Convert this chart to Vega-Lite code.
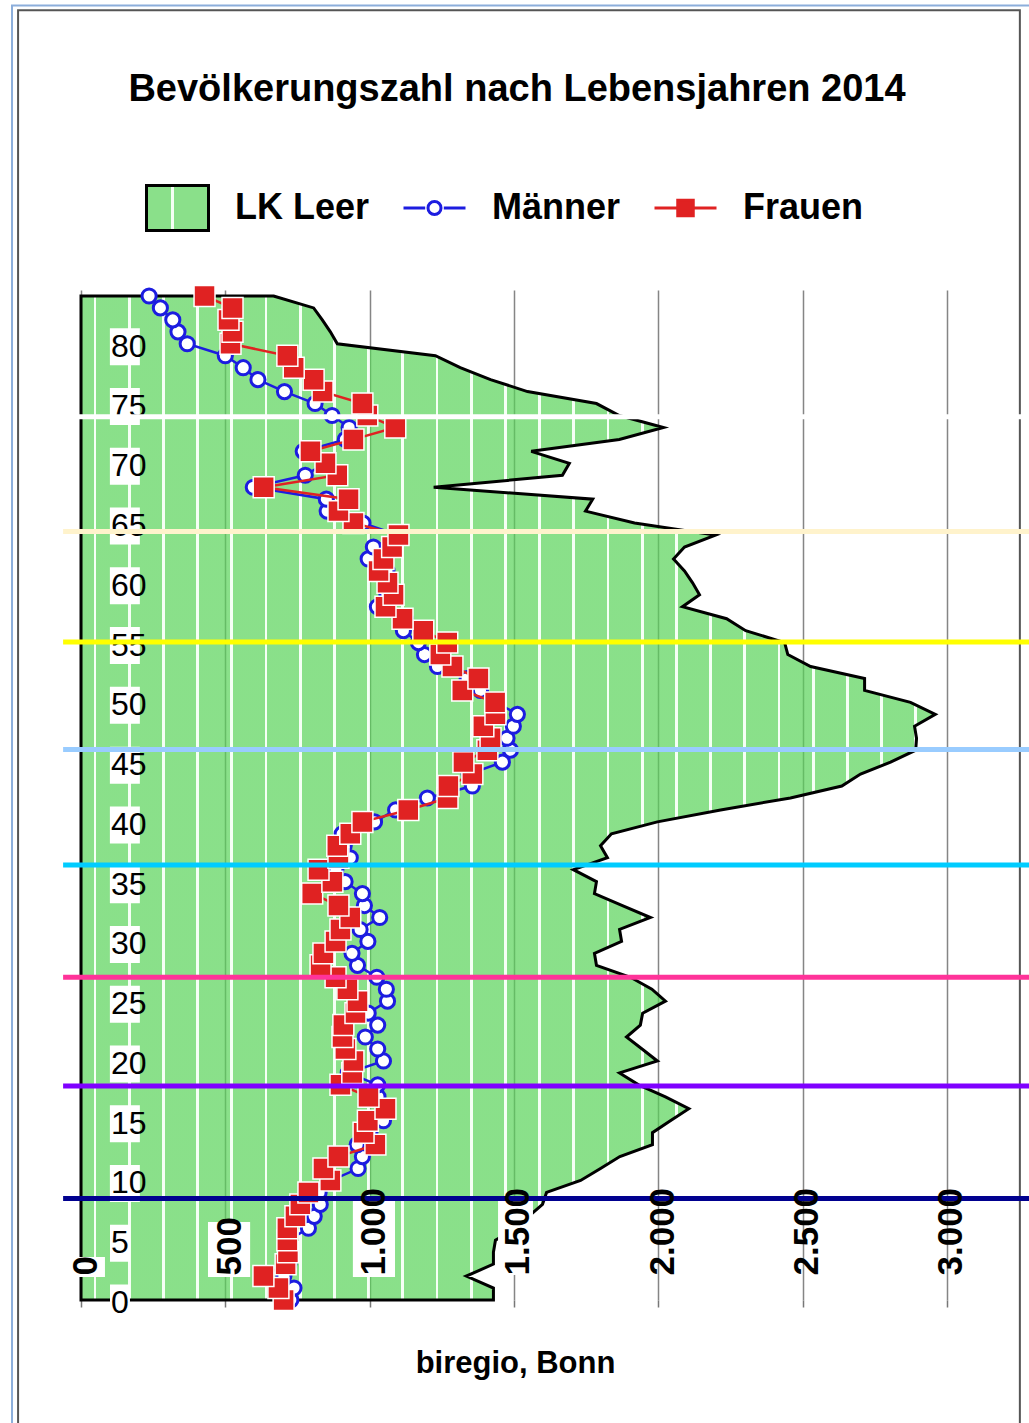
{
  "$schema": "https://vega.github.io/schema/vega-lite/v6.json",
  "width": 938,
  "height": 1010,
  "autosize": {"type": "none"},
  "padding": {"left": 81, "top": 290, "right": 10, "bottom": 123},
  "background": "white",
  "config": {"view": {"stroke": null}, "font": "Liberation Sans"},
  "title": {
    "text": "Bevölkerungszahl nach Lebensjahren 2014",
    "font": "Liberation Sans",
    "fontSize": 38,
    "fontWeight": "bold",
    "color": "black",
    "anchor": "middle",
    "frame": "group",
    "dx": -33,
    "offset": -104
  },
  "datasets": {
    "eins": [{}],
    "bevoelkerung": [
      {"Alter": 0, "LK Leer": 1429, "Männer": 727, "Frauen": 702},
      {"Alter": 1, "LK Leer": 1429, "Männer": 738, "Frauen": 684},
      {"Alter": 2, "LK Leer": 1335, "Männer": 703, "Frauen": 632},
      {"Alter": 3, "LK Leer": 1429, "Männer": 720, "Frauen": 709},
      {"Alter": 4, "LK Leer": 1429, "Männer": 712, "Frauen": 717},
      {"Alter": 5, "LK Leer": 1436, "Männer": 718, "Frauen": 715},
      {"Alter": 6, "LK Leer": 1506, "Männer": 788, "Frauen": 715},
      {"Alter": 7, "LK Leer": 1551, "Männer": 808, "Frauen": 743},
      {"Alter": 8, "LK Leer": 1599, "Männer": 829, "Frauen": 760},
      {"Alter": 9, "LK Leer": 1613, "Männer": 825, "Frauen": 788},
      {"Alter": 10, "LK Leer": 1731, "Männer": 867, "Frauen": 864},
      {"Alter": 11, "LK Leer": 1800, "Männer": 960, "Frauen": 840},
      {"Alter": 12, "LK Leer": 1867, "Männer": 975, "Frauen": 892},
      {"Alter": 13, "LK Leer": 1980, "Männer": 957, "Frauen": 1020},
      {"Alter": 14, "LK Leer": 1980, "Männer": 1001, "Frauen": 979},
      {"Alter": 15, "LK Leer": 2042, "Männer": 1048, "Frauen": 994},
      {"Alter": 16, "LK Leer": 2106, "Männer": 1051, "Frauen": 1055},
      {"Alter": 17, "LK Leer": 2025, "Männer": 1029, "Frauen": 996},
      {"Alter": 18, "LK Leer": 1932, "Männer": 1028, "Frauen": 899},
      {"Alter": 19, "LK Leer": 1866, "Männer": 926, "Frauen": 940},
      {"Alter": 20, "LK Leer": 1997, "Männer": 1048, "Frauen": 944},
      {"Alter": 21, "LK Leer": 1944, "Männer": 1028, "Frauen": 916},
      {"Alter": 22, "LK Leer": 1890, "Männer": 985, "Frauen": 906},
      {"Alter": 23, "LK Leer": 1938, "Männer": 1028, "Frauen": 909},
      {"Alter": 24, "LK Leer": 1946, "Männer": 995, "Frauen": 951},
      {"Alter": 25, "LK Leer": 2025, "Männer": 1062, "Frauen": 958},
      {"Alter": 26, "LK Leer": 1978, "Männer": 1058, "Frauen": 923},
      {"Alter": 27, "LK Leer": 1904, "Männer": 1025, "Frauen": 882},
      {"Alter": 28, "LK Leer": 1786, "Männer": 958, "Frauen": 830},
      {"Alter": 29, "LK Leer": 1779, "Männer": 939, "Frauen": 840},
      {"Alter": 30, "LK Leer": 1873, "Männer": 994, "Frauen": 882},
      {"Alter": 31, "LK Leer": 1866, "Männer": 967, "Frauen": 899},
      {"Alter": 32, "LK Leer": 1973, "Männer": 1035, "Frauen": 933},
      {"Alter": 33, "LK Leer": 1876, "Männer": 982, "Frauen": 892},
      {"Alter": 34, "LK Leer": 1779, "Männer": 975, "Frauen": 801},
      {"Alter": 35, "LK Leer": 1786, "Männer": 915, "Frauen": 871},
      {"Alter": 36, "LK Leer": 1706, "Männer": 883, "Frauen": 823},
      {"Alter": 37, "LK Leer": 1824, "Männer": 933, "Frauen": 892},
      {"Alter": 38, "LK Leer": 1800, "Männer": 912, "Frauen": 888},
      {"Alter": 39, "LK Leer": 1838, "Männer": 905, "Frauen": 933},
      {"Alter": 40, "LK Leer": 1997, "Männer": 1017, "Frauen": 975},
      {"Alter": 41, "LK Leer": 2216, "Männer": 1090, "Frauen": 1134},
      {"Alter": 42, "LK Leer": 2458, "Männer": 1200, "Frauen": 1270},
      {"Alter": 43, "LK Leer": 2636, "Männer": 1356, "Frauen": 1273},
      {"Alter": 44, "LK Leer": 2701, "Männer": 1345, "Frauen": 1356},
      {"Alter": 45, "LK Leer": 2805, "Männer": 1460, "Frauen": 1325},
      {"Alter": 46, "LK Leer": 2892, "Männer": 1488, "Frauen": 1408},
      {"Alter": 47, "LK Leer": 2895, "Männer": 1476, "Frauen": 1419},
      {"Alter": 48, "LK Leer": 2888, "Männer": 1498, "Frauen": 1394},
      {"Alter": 49, "LK Leer": 2960, "Männer": 1512, "Frauen": 1436},
      {"Alter": 50, "LK Leer": 2874, "Männer": 1439, "Frauen": 1435},
      {"Alter": 51, "LK Leer": 2715, "Männer": 1384, "Frauen": 1321},
      {"Alter": 52, "LK Leer": 2715, "Männer": 1338, "Frauen": 1377},
      {"Alter": 53, "LK Leer": 2528, "Männer": 1235, "Frauen": 1287},
      {"Alter": 54, "LK Leer": 2449, "Männer": 1190, "Frauen": 1245},
      {"Alter": 55, "LK Leer": 2438, "Männer": 1169, "Frauen": 1269},
      {"Alter": 56, "LK Leer": 2303, "Männer": 1117, "Frauen": 1186},
      {"Alter": 57, "LK Leer": 2237, "Männer": 1123, "Frauen": 1114},
      {"Alter": 58, "LK Leer": 2084, "Männer": 1027, "Frauen": 1055},
      {"Alter": 59, "LK Leer": 2143, "Männer": 1060, "Frauen": 1083},
      {"Alter": 60, "LK Leer": 2119, "Männer": 1057, "Frauen": 1062},
      {"Alter": 61, "LK Leer": 2091, "Männer": 1060, "Frauen": 1031},
      {"Alter": 62, "LK Leer": 2053, "Männer": 995, "Frauen": 1048},
      {"Alter": 63, "LK Leer": 2091, "Männer": 1013, "Frauen": 1078},
      {"Alter": 64, "LK Leer": 2198, "Männer": 1098, "Frauen": 1100},
      {"Alter": 65, "LK Leer": 1918, "Männer": 977, "Frauen": 944},
      {"Alter": 66, "LK Leer": 1748, "Männer": 853, "Frauen": 892},
      {"Alter": 67, "LK Leer": 1773, "Männer": 850, "Frauen": 927},
      {"Alter": 68, "LK Leer": 1222, "Männer": 597, "Frauen": 633},
      {"Alter": 69, "LK Leer": 1668, "Männer": 777, "Frauen": 888},
      {"Alter": 70, "LK Leer": 1692, "Männer": 845, "Frauen": 847},
      {"Alter": 71, "LK Leer": 1560, "Männer": 770, "Frauen": 795},
      {"Alter": 72, "LK Leer": 1865, "Männer": 916, "Frauen": 944},
      {"Alter": 73, "LK Leer": 2018, "Männer": 929, "Frauen": 1089},
      {"Alter": 74, "LK Leer": 1865, "Männer": 870, "Frauen": 992},
      {"Alter": 75, "LK Leer": 1786, "Männer": 811, "Frauen": 975},
      {"Alter": 76, "LK Leer": 1547, "Männer": 705, "Frauen": 837},
      {"Alter": 77, "LK Leer": 1419, "Männer": 613, "Frauen": 806},
      {"Alter": 78, "LK Leer": 1314, "Männer": 562, "Frauen": 737},
      {"Alter": 79, "LK Leer": 1228, "Männer": 500, "Frauen": 715},
      {"Alter": 80, "LK Leer": 888, "Männer": 368, "Frauen": 518},
      {"Alter": 81, "LK Leer": 864, "Männer": 336, "Frauen": 525},
      {"Alter": 82, "LK Leer": 836, "Männer": 318, "Frauen": 511},
      {"Alter": 83, "LK Leer": 806, "Männer": 275, "Frauen": 525},
      {"Alter": 84, "LK Leer": 667, "Männer": 236, "Frauen": 428}
    ],
    "grenzen": [
      {"Grenze": 8.5},
      {"Grenze": 17.9},
      {"Grenze": 27.0},
      {"Grenze": 36.4},
      {"Grenze": 46.05},
      {"Grenze": 55.05},
      {"Grenze": 64.3},
      {"Grenze": 73.9}
    ]
  },
  "resolve": {"axis": {"x": "independent"}},
  "layer": [
    {
      "data": {"name": "eins"},
      "mark": {"type": "rect", "filled": false, "stroke": "#8CAEDB", "strokeWidth": 2},
      "encoding": {
        "x": {"datum": -239, "type": "quantitative", "scale": {"domain": [0, 3250], "nice": false, "zero": false}, "axis": null},
        "x2": {"datum": 3400},
        "y": {"datum": 108.3, "type": "quantitative", "scale": {"domain": [0, 84.5], "nice": false, "zero": false}, "axis": null},
        "y2": {"datum": -12}
      }
    },
    {
      "data": {"name": "eins"},
      "mark": {"type": "rect", "filled": false, "stroke": "#555555", "strokeWidth": 2},
      "encoding": {
        "x": {"datum": -218, "type": "quantitative", "scale": {"domain": [0, 3250], "nice": false, "zero": false}, "axis": null},
        "x2": {"datum": 3253},
        "y": {"datum": 107.9, "type": "quantitative", "scale": {"domain": [0, 84.5], "nice": false, "zero": false}, "axis": null},
        "y2": {"datum": -12}
      }
    },
    {
      "data": {"name": "bevoelkerung"},
      "mark": {
        "type": "area",
        "orient": "horizontal",
        "fillOpacity": 0.7,
        "stroke": "black",
        "strokeWidth": 3,
        "strokeOpacity": 1,
        "strokeJoin": "miter",
        "fill": {
          "gradient": "linear", "x1": 0, "y1": 0, "x2": 1, "y2": 0,
          "stops": [
            {"offset": 0, "color": "#58D358"},
            {"offset": 0.01475, "color": "#58D358"}, {"offset": 0.01475, "color": "#F1FFF1"}, {"offset": 0.01803, "color": "#F1FFF1"}, {"offset": 0.01803, "color": "#58D358"},
            {"offset": 0.05478, "color": "#58D358"}, {"offset": 0.05478, "color": "#F1FFF1"}, {"offset": 0.05806, "color": "#F1FFF1"}, {"offset": 0.05806, "color": "#58D358"},
            {"offset": 0.09482, "color": "#58D358"}, {"offset": 0.09482, "color": "#F1FFF1"}, {"offset": 0.09809, "color": "#F1FFF1"}, {"offset": 0.09809, "color": "#58D358"},
            {"offset": 0.13485, "color": "#58D358"}, {"offset": 0.13485, "color": "#F1FFF1"}, {"offset": 0.13813, "color": "#F1FFF1"}, {"offset": 0.13813, "color": "#58D358"},
            {"offset": 0.17488, "color": "#58D358"}, {"offset": 0.17488, "color": "#F1FFF1"}, {"offset": 0.17816, "color": "#F1FFF1"}, {"offset": 0.17816, "color": "#58D358"},
            {"offset": 0.21491, "color": "#58D358"}, {"offset": 0.21491, "color": "#F1FFF1"}, {"offset": 0.21819, "color": "#F1FFF1"}, {"offset": 0.21819, "color": "#58D358"},
            {"offset": 0.25495, "color": "#58D358"}, {"offset": 0.25495, "color": "#F1FFF1"}, {"offset": 0.25822, "color": "#F1FFF1"}, {"offset": 0.25822, "color": "#58D358"},
            {"offset": 0.29498, "color": "#58D358"}, {"offset": 0.29498, "color": "#F1FFF1"}, {"offset": 0.29826, "color": "#F1FFF1"}, {"offset": 0.29826, "color": "#58D358"},
            {"offset": 0.33501, "color": "#58D358"}, {"offset": 0.33501, "color": "#F1FFF1"}, {"offset": 0.33829, "color": "#F1FFF1"}, {"offset": 0.33829, "color": "#58D358"},
            {"offset": 0.37504, "color": "#58D358"}, {"offset": 0.37504, "color": "#F1FFF1"}, {"offset": 0.37832, "color": "#F1FFF1"}, {"offset": 0.37832, "color": "#58D358"},
            {"offset": 0.41508, "color": "#58D358"}, {"offset": 0.41508, "color": "#F1FFF1"}, {"offset": 0.41836, "color": "#F1FFF1"}, {"offset": 0.41836, "color": "#58D358"},
            {"offset": 0.45511, "color": "#58D358"}, {"offset": 0.45511, "color": "#F1FFF1"}, {"offset": 0.45839, "color": "#F1FFF1"}, {"offset": 0.45839, "color": "#58D358"},
            {"offset": 0.49514, "color": "#58D358"}, {"offset": 0.49514, "color": "#F1FFF1"}, {"offset": 0.49842, "color": "#F1FFF1"}, {"offset": 0.49842, "color": "#58D358"},
            {"offset": 0.53518, "color": "#58D358"}, {"offset": 0.53518, "color": "#F1FFF1"}, {"offset": 0.53845, "color": "#F1FFF1"}, {"offset": 0.53845, "color": "#58D358"},
            {"offset": 0.57521, "color": "#58D358"}, {"offset": 0.57521, "color": "#F1FFF1"}, {"offset": 0.57849, "color": "#F1FFF1"}, {"offset": 0.57849, "color": "#58D358"},
            {"offset": 0.61524, "color": "#58D358"}, {"offset": 0.61524, "color": "#F1FFF1"}, {"offset": 0.61852, "color": "#F1FFF1"}, {"offset": 0.61852, "color": "#58D358"},
            {"offset": 0.65527, "color": "#58D358"}, {"offset": 0.65527, "color": "#F1FFF1"}, {"offset": 0.65855, "color": "#F1FFF1"}, {"offset": 0.65855, "color": "#58D358"},
            {"offset": 0.69531, "color": "#58D358"}, {"offset": 0.69531, "color": "#F1FFF1"}, {"offset": 0.69858, "color": "#F1FFF1"}, {"offset": 0.69858, "color": "#58D358"},
            {"offset": 0.73534, "color": "#58D358"}, {"offset": 0.73534, "color": "#F1FFF1"}, {"offset": 0.73862, "color": "#F1FFF1"}, {"offset": 0.73862, "color": "#58D358"},
            {"offset": 0.77537, "color": "#58D358"}, {"offset": 0.77537, "color": "#F1FFF1"}, {"offset": 0.77865, "color": "#F1FFF1"}, {"offset": 0.77865, "color": "#58D358"},
            {"offset": 0.81540, "color": "#58D358"}, {"offset": 0.81540, "color": "#F1FFF1"}, {"offset": 0.81868, "color": "#F1FFF1"}, {"offset": 0.81868, "color": "#58D358"},
            {"offset": 0.85544, "color": "#58D358"}, {"offset": 0.85544, "color": "#F1FFF1"}, {"offset": 0.85871, "color": "#F1FFF1"}, {"offset": 0.85871, "color": "#58D358"},
            {"offset": 0.89547, "color": "#58D358"}, {"offset": 0.89547, "color": "#F1FFF1"}, {"offset": 0.89875, "color": "#F1FFF1"}, {"offset": 0.89875, "color": "#58D358"},
            {"offset": 0.93550, "color": "#58D358"}, {"offset": 0.93550, "color": "#F1FFF1"}, {"offset": 0.93878, "color": "#F1FFF1"}, {"offset": 0.93878, "color": "#58D358"},
            {"offset": 0.97553, "color": "#58D358"}, {"offset": 0.97553, "color": "#F1FFF1"}, {"offset": 0.97881, "color": "#F1FFF1"}, {"offset": 0.97881, "color": "#58D358"},
            {"offset": 1, "color": "#58D358"}
          ]
        }
      },
      "encoding": {
        "x": {
          "field": "LK Leer", "type": "quantitative",
          "scale": {"domain": [0, 3250], "nice": false, "zero": false},
          "axis": {
            "orient": "bottom", "values": [0, 500, 1000, 1500, 2000, 2500, 3000],
            "grid": true, "gridColor": "#333333", "gridOpacity": 0.6, "gridWidth": 1.5,
            "labels": false, "ticks": true, "tickSize": 7, "tickColor": "#777777", "tickWidth": 1.5,
            "domain": false, "title": null, "zindex": 0
          }
        },
        "y": {"field": "Alter", "type": "quantitative", "scale": {"domain": [0, 84.5], "nice": false, "zero": false}, "axis": null}
      }
    },
    {
      "data": {"name": "bevoelkerung"},
      "mark": {"type": "line", "strokeWidth": 2.5},
      "encoding": {
        "x": {"field": "Männer", "type": "quantitative", "scale": {"domain": [0, 3250], "nice": false, "zero": false}, "axis": null},
        "y": {"field": "Alter", "type": "quantitative", "scale": {"domain": [0, 84.5], "nice": false, "zero": false}, "axis": null},
        "order": {"field": "Alter", "type": "quantitative"},
        "color": {
          "datum": "Männer", "type": "nominal",
          "scale": {"domain": ["LK Leer", "Männer", "Frauen"], "range": ["#000000", "#1C1CE0", "#E02222"]},
          "legend": {
            "orient": "none", "legendX": 64, "legendY": -115, "direction": "horizontal", "title": null,
            "symbolSize": 3844, "symbolStrokeWidth": 3,
            "labelFont": "Liberation Sans", "labelFontSize": 36, "labelFontWeight": "bold", "labelColor": "black",
            "labelOffset": 25, "columnPadding": 27, "padding": 0, "labelLimit": 400,
            "encode": {
              "symbols": {
                "update": {
                  "shape": {"signal": "datum.value === 'LK Leer' ? 'M-1,-0.726H1V0.726H-1Z' : datum.value === 'Männer' ? 'M0,-0.726M0,0.726M-1,0H-0.3M0.3,0H1M0.21,0A0.21,0.21 0 1 1 -0.21,0A0.21,0.21 0 1 1 0.21,0Z' : 'M0,-0.726M0,0.726M-1,0H-0.25M0.25,0H1M-0.25,-0.25H0.25V0.25H-0.25Z'"},
                  "fill": {"signal": "datum.value === 'LK Leer' ? {gradient: 'linear', x1: 0, y1: 0, x2: 1, y2: 0, stops: [{offset: 0, color: '#8AE08A'}, {offset: 0.4, color: '#8AE08A'}, {offset: 0.4, color: '#F4FFF4'}, {offset: 0.45, color: '#F4FFF4'}, {offset: 0.45, color: '#8AE08A'}, {offset: 1, color: '#8AE08A'}]} : datum.value === 'Männer' ? '#ffffff' : '#E02222'"},
                  "opacity": {"value": 1},
                  "fillOpacity": {"value": 1},
                  "strokeOpacity": {"value": 1},
                  "strokeWidth": {"value": 3}
                }
              }
            }
          }
        }
      }
    },
    {
      "data": {"name": "bevoelkerung"},
      "mark": {"type": "point", "shape": "circle", "filled": true, "fill": "white", "stroke": "#1C1CE0", "strokeWidth": 3, "size": 200, "opacity": 1},
      "encoding": {
        "x": {"field": "Männer", "type": "quantitative", "scale": {"domain": [0, 3250], "nice": false, "zero": false}, "axis": null},
        "y": {"field": "Alter", "type": "quantitative", "scale": {"domain": [0, 84.5], "nice": false, "zero": false}, "axis": null}
      }
    },
    {
      "data": {"name": "bevoelkerung"},
      "mark": {"type": "line", "strokeWidth": 2.5},
      "encoding": {
        "x": {"field": "Frauen", "type": "quantitative", "scale": {"domain": [0, 3250], "nice": false, "zero": false}, "axis": null},
        "y": {"field": "Alter", "type": "quantitative", "scale": {"domain": [0, 84.5], "nice": false, "zero": false}, "axis": null},
        "order": {"field": "Alter", "type": "quantitative"},
        "color": {"datum": "Frauen", "type": "nominal"}
      }
    },
    {
      "data": {"name": "bevoelkerung"},
      "mark": {"type": "point", "shape": "square", "filled": true, "fill": "#E02222", "stroke": "white", "strokeWidth": 1.5, "size": 440, "opacity": 1},
      "encoding": {
        "x": {"field": "Frauen", "type": "quantitative", "scale": {"domain": [0, 3250], "nice": false, "zero": false}, "axis": null},
        "y": {"field": "Alter", "type": "quantitative", "scale": {"domain": [0, 84.5], "nice": false, "zero": false}, "axis": null}
      }
    },
    {
      "data": {"name": "bevoelkerung"},
      "transform": [{"filter": "datum.Alter % 5 === 0 && datum.Alter >= 10"}],
      "mark": {"type": "point", "shape": "M-0.81,-1H0.81V1H-0.81Z", "filled": true, "fill": "white", "strokeWidth": 0, "size": 1369, "opacity": 1, "yOffset": 3},
      "encoding": {
        "x": {"datum": 152, "type": "quantitative", "scale": {"domain": [0, 3250], "nice": false, "zero": false}, "axis": null},
        "y": {"field": "Alter", "type": "quantitative", "scale": {"domain": [0, 84.5], "nice": false, "zero": false}, "axis": null}
      }
    },
    {
      "data": {"name": "bevoelkerung"},
      "transform": [{"filter": "datum.Alter % 5 === 0 && datum.Alter < 10"}],
      "mark": {"type": "point", "shape": "M-0.54,-1H0.54V1H-0.54Z", "filled": true, "fill": "white", "strokeWidth": 0, "size": 1369, "opacity": 1, "yOffset": 3},
      "encoding": {
        "x": {"datum": 135, "type": "quantitative", "scale": {"domain": [0, 3250], "nice": false, "zero": false}, "axis": null},
        "y": {"field": "Alter", "type": "quantitative", "scale": {"domain": [0, 84.5], "nice": false, "zero": false}, "axis": null}
      }
    },
    {
      "data": {"name": "eins"},
      "mark": {"type": "rect", "fill": "white"},
      "encoding": {
        "x": {"datum": -38, "type": "quantitative", "scale": {"domain": [0, 3250], "nice": false, "zero": false}, "axis": null},
        "x2": {"datum": 83},
        "y": {"datum": 1.92, "type": "quantitative", "scale": {"domain": [0, 84.5], "nice": false, "zero": false}, "axis": null},
        "y2": {"datum": 3.6}
      }
    },
    {
      "data": {"name": "eins"},
      "mark": {"type": "rect", "fill": "white"},
      "encoding": {
        "x": {"datum": 440, "type": "quantitative", "scale": {"domain": [0, 3250], "nice": false, "zero": false}, "axis": null},
        "x2": {"datum": 586},
        "y": {"datum": 1.92, "type": "quantitative", "scale": {"domain": [0, 84.5], "nice": false, "zero": false}, "axis": null},
        "y2": {"datum": 6.53}
      }
    },
    {
      "data": {"name": "eins"},
      "mark": {"type": "rect", "fill": "white"},
      "encoding": {
        "x": {"datum": 942, "type": "quantitative", "scale": {"domain": [0, 3250], "nice": false, "zero": false}, "axis": null},
        "x2": {"datum": 1088},
        "y": {"datum": 1.92, "type": "quantitative", "scale": {"domain": [0, 84.5], "nice": false, "zero": false}, "axis": null},
        "y2": {"datum": 8.37}
      }
    },
    {
      "data": {"name": "eins"},
      "mark": {"type": "rect", "fill": "white"},
      "encoding": {
        "x": {"datum": 1445, "type": "quantitative", "scale": {"domain": [0, 3250], "nice": false, "zero": false}, "axis": null},
        "x2": {"datum": 1566},
        "y": {"datum": 2.09, "type": "quantitative", "scale": {"domain": [0, 84.5], "nice": false, "zero": false}, "axis": null},
        "y2": {"datum": 8.62}
      }
    },
    {
      "data": {"name": "bevoelkerung"},
      "transform": [{"filter": "datum.Alter % 5 === 0"}],
      "mark": {"type": "text", "align": "left", "baseline": "middle", "dy": 3, "font": "Liberation Sans Narrow, Liberation Sans", "fontSize": 32, "color": "black"},
      "encoding": {
        "x": {
          "datum": 104, "type": "quantitative",
          "scale": {"domain": [0, 3250], "nice": false, "zero": false},
          "axis": {
            "orient": "bottom", "values": [0, 500, 1000, 1500, 2000, 2500, 3000],
            "grid": false, "ticks": false, "tickSize": 0, "domain": false,
            "labelExpr": "replace(format(datum.value, ','), ',', '.')",
            "labelAngle": -90, "labelAlign": "left", "labelBaseline": "middle",
            "labelPadding": -25, "labelOffset": 4, "labelFlush": false, "labelOverlap": false, "labelBound": false,
            "labelFont": "Liberation Sans Narrow, Liberation Sans", "labelFontSize": 35, "labelFontWeight": "bold", "labelColor": "black",
            "title": "biregio, Bonn", "titleFont": "Liberation Sans", "titleFontSize": 31, "titleFontWeight": "bold", "titleColor": "black",
            "titleX": 434, "titleY": 72, "titleAlign": "center", "titleBaseline": "alphabetic", "titleAngle": 0,
            "zindex": 1
          }
        },
        "y": {"field": "Alter", "type": "quantitative", "scale": {"domain": [0, 84.5], "nice": false, "zero": false}, "axis": null},
        "text": {"field": "Alter", "type": "quantitative", "format": "d"}
      }
    },
    {
      "data": {"name": "grenzen"},
      "mark": {"type": "rule", "strokeWidth": 5},
      "encoding": {
        "x": {"datum": -62, "type": "quantitative", "scale": {"domain": [0, 3250], "nice": false, "zero": false}, "axis": null},
        "x2": {"datum": 3300},
        "y": {"field": "Grenze", "type": "quantitative", "scale": {"domain": [0, 84.5], "nice": false, "zero": false}, "axis": null},
        "stroke": {
          "field": "Grenze", "type": "ordinal",
          "scale": {"domain": [8.5, 17.9, 27.0, 36.4, 46.05, 55.05, 64.3, 73.9], "range": ["#00008F", "#7F00FF", "#FF3399", "#00CCFF", "#99CCFF", "#FFFF00", "#FFF3CC", "#FFFFFF"]},
          "legend": null
        }
      }
    }
  ]
}
